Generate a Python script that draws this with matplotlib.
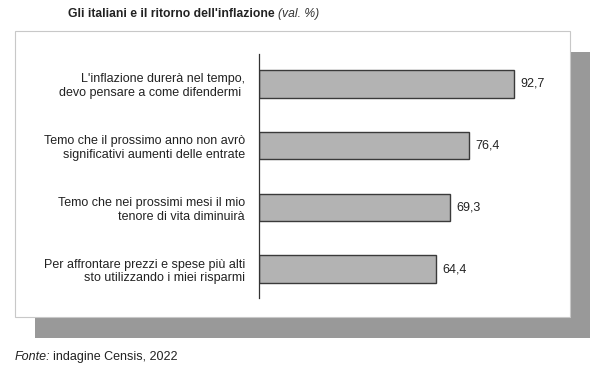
import matplotlib
matplotlib.use("Agg")
import matplotlib.pyplot as plt
from matplotlib.patches import Rectangle

categories = [
    "L'inflazione durerà nel tempo,\ndevo pensare a come difendermi ",
    "Temo che il prossimo anno non avrò\nsignificativi aumenti delle entrate",
    "Temo che nei prossimi mesi il mio\ntenore di vita diminuirà",
    "Per affrontare prezzi e spese più alti\nsto utilizzando i miei risparmi",
]
values = [92.7, 76.4, 69.3, 64.4]
value_labels = ["92,7", "76,4", "69,3", "64,4"]

W, H = 603, 380
fig = plt.figure(figsize=(W / 100, H / 100), dpi=100)
fig.patch.set_facecolor("white")
plt.rcParams["font.family"] = ["Liberation Sans", "DejaVu Sans"]

def fx(px):
    return px / W

def fy(py):
    return 1 - py / H

FS = 9.0

# shadow and white panel
fig.patches.append(Rectangle((fx(35), fy(338)), fx(590) - fx(35), fy(52) - fy(338),
                             transform=fig.transFigure, facecolor="#999999",
                             edgecolor="none", zorder=0))
fig.patches.append(Rectangle((fx(15), fy(317)), fx(570) - fx(15), fy(31) - fy(317),
                             transform=fig.transFigure, facecolor="white",
                             edgecolor="#c8c8c8", linewidth=0.8, zorder=1))

ax = fig.add_axes([fx(259), fy(298), fx(559) - fx(259), fy(54) - fy(298)])
ax.set_facecolor("none")
ax.set_zorder(2)
ypos = list(range(len(values)))
ax.barh(ypos, values, height=0.44, color="#b3b3b3", edgecolor="#3a3a3a", linewidth=1.0)
ax.set_xlim(0, 300 / 2.751)
ax.set_ylim(3.47, -0.486)
for s in ["top", "right", "bottom"]:
    ax.spines[s].set_visible(False)
ax.spines["left"].set_color("#333333")
ax.spines["left"].set_linewidth(0.9)
ax.set_xticks([])
ax.set_yticks(ypos)
ax.set_yticklabels(categories, fontsize=FS, color="#222222", linespacing=1.2)
ax.tick_params(axis="y", length=0, pad=10)
for y, v, lab in zip(ypos, values, value_labels):
    ax.text(v + 2.4, y, lab, va="center", ha="left", fontsize=FS, color="#222222")

fig.text(fx(68), fy(14), "Gli italiani e il ritorno dell'inflazione", fontsize=8.7,
         fontweight="bold", va="center", ha="left", color="#222222")
fig.text(fx(278), fy(14), "(val. %)", fontsize=8.7, style="italic", va="center",
         ha="left", color="#333333")
fig.text(fx(15), fy(357), "Fonte:", fontsize=FS, style="italic", va="center",
         ha="left", color="#222222")
fig.text(fx(53), fy(357), "indagine Censis, 2022", fontsize=FS, va="center",
         ha="left", color="#222222")

fig.savefig("out.png", dpi=100)
